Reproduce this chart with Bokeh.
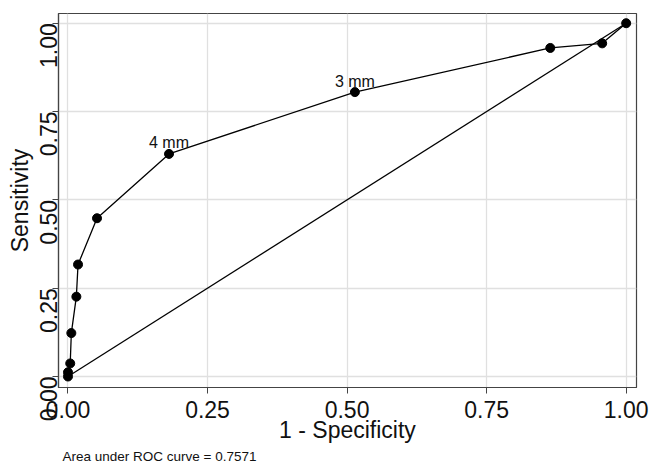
import math
from bokeh.plotting import figure
from bokeh.models import FixedTicker, Range1d, ColumnDataSource, Title
from bokeh.core.properties import value
from bokeh.embed import file_html
from bokeh.resources import INLINE

# ---- data ----
fpr = [0.0, 0.0, 0.004, 0.006, 0.015, 0.018, 0.052, 0.181, 0.514, 0.864, 0.957, 1.0]
tpr = [0.0, 0.012, 0.037, 0.123, 0.226, 0.317, 0.448, 0.630, 0.805, 0.930, 0.943, 1.0]
ref_x = [0.0, 1.0]
ref_y = [0.0, 1.0]
label_idx = [7, 8]
label_text = ["4 mm", "3 mm"]
tick_values = [0.0, 0.25, 0.5, 0.75, 1.0]
tick_labels = ["0.00", "0.25", "0.50", "0.75", "1.00"]
x_title = "1 - Specificity"
y_title = "Sensitivity"
note = "Area under ROC curve = 0.7571"

FONT = "Liberation Sans"

p = figure(width=649, height=466, output_backend="svg", toolbar_location=None,
           x_range=Range1d(-0.017, 1.0185), y_range=Range1d(-0.0311, 1.0275),
           min_border_left=58, min_border_right=13, min_border_top=13,
           min_border_bottom=79)
p.background_fill_color = "white"
p.border_fill_color = "white"
p.outline_line_color = "#444444"
p.outline_line_width = 1.2

for ax in (p.xaxis, p.yaxis):
    ax.ticker = FixedTicker(ticks=tick_values)
    ax.major_label_overrides = {v: s for v, s in zip(tick_values, tick_labels)}
    ax.major_label_text_font = FONT
    ax.major_label_text_font_size = "23px"
    ax.major_label_text_color = "#111111"
    ax.axis_line_color = "#444444"
    ax.axis_line_width = 1.2
    ax.major_tick_line_color = "#444444"
    ax.major_tick_in = 0
    ax.major_tick_out = 6
    ax.minor_tick_line_color = None
    ax.axis_label_text_font = FONT
    ax.axis_label_text_font_style = "normal"
    ax.axis_label_text_font_size = "23px"
    ax.axis_label_text_color = "#111111"

p.xaxis.major_label_standoff = 7
p.xaxis.axis_label = x_title
p.xaxis.axis_label_standoff = -4
p.yaxis.major_label_orientation = math.pi / 2
p.yaxis.major_label_standoff = 4
p.yaxis.axis_label = y_title
p.yaxis.axis_label_standoff = -4

p.xgrid.grid_line_color = "#e0e0e0"
p.ygrid.grid_line_color = "#e0e0e0"
p.xgrid.grid_line_width = 1.3
p.ygrid.grid_line_width = 1.3

# reference diagonal
p.line(ref_x, ref_y, line_color="black", line_width=1.3)
# ROC curve
p.line(fpr, tpr, line_color="black", line_width=1.3)
p.scatter(fpr, tpr, size=9, fill_color="black", line_color="black")

src = ColumnDataSource(dict(x=[fpr[i] for i in label_idx],
                            y=[tpr[i] for i in label_idx],
                            t=label_text))
p.text(x="x", y="y", text="t", source=src, text_font=value(FONT),
       text_font_size="16px", text_align="center", text_baseline="alphabetic",
       y_offset=-11, text_color="#111111")

# footnote below the x axis title
p.add_layout(Title(text=note, align="left", offset=4, standoff=3,
                   text_font=FONT, text_font_size="13.5px",
                   text_font_style="normal", text_color="#111111"), "below")

open("out.html", "w").write(file_html(p, INLINE))
